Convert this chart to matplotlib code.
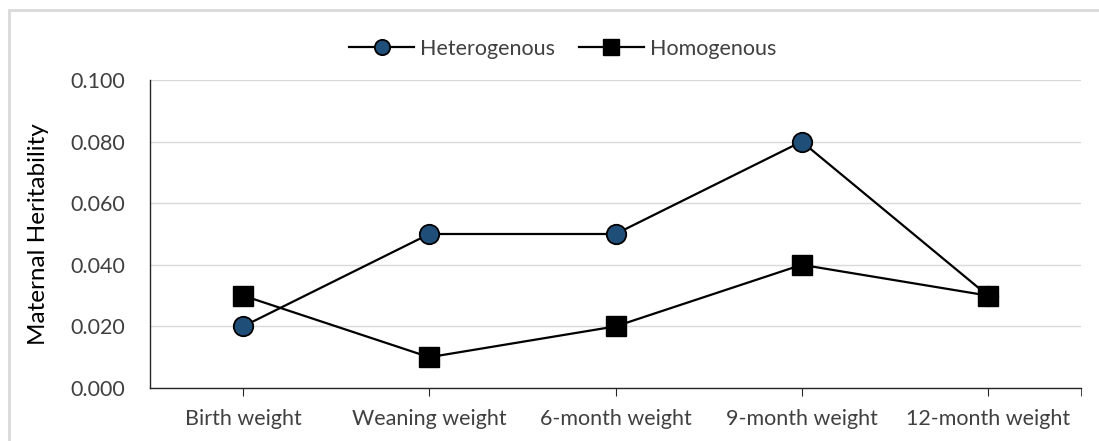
import matplotlib
matplotlib.use("Agg")
import matplotlib.pyplot as plt
from matplotlib.patches import Rectangle

categories = ["Birth weight", "Weaning weight", "6-month weight", "9-month weight", "12-month weight"]
heterogenous = [0.020, 0.050, 0.050, 0.080, 0.030]
homogenous = [0.030, 0.010, 0.020, 0.040, 0.030]
yticks = [0.000, 0.020, 0.040, 0.060, 0.080, 0.100]

plt.rcParams['font.family'] = ['Lato', 'DejaVu Sans']

fig = plt.figure(figsize=(10.99, 4.41), dpi=100)
fig.patches.append(Rectangle((9/1099, -0.1), 1.2, 1 - 10/441 + 0.1, transform=fig.transFigure,
                             fill=False, edgecolor='#d9d9d9', linewidth=2.0, zorder=0))
ax = fig.add_axes([150/1099, 1 - 388/441, (1081 - 150)/1099, (388 - 80)/441])

x = list(range(len(categories)))
ax.plot(x, heterogenous, color='black', lw=1.6, marker='o', ms=14,
        mfc='#1F4E79', mec='black', mew=1.3, label='Heterogenous', zorder=3)
ax.plot(x, homogenous, color='black', lw=1.6, marker='s', ms=14,
        mfc='black', mec='black', mew=1.0, label='Homogenous', zorder=3)

ax.set_xlim(-0.5, len(categories) - 0.5)
ax.set_ylim(0, 0.100)
ax.set_yticks(yticks)
ax.set_yticklabels([f"{v:.3f}" for v in yticks])
ax.set_xticks(x)
ax.set_xticklabels(categories)
ax.set_xticks([len(categories) - 0.5], minor=True)
ax.grid(axis='y', color='#d9d9d9', lw=1.0)
ax.set_axisbelow(True)

for s in ['top', 'right']:
    ax.spines[s].set_visible(False)
for s in ['left', 'bottom']:
    ax.spines[s].set_color('#262626')
    ax.spines[s].set_linewidth(1.0)

ax.tick_params(axis='y', length=0, pad=18, labelsize=15.5, labelcolor='#404040')
ax.tick_params(axis='x', which='both', length=6, direction='out', color='#262626',
               pad=9, labelsize=15.5, labelcolor='#404040')

ax.set_ylabel("Maternal Heritability", fontsize=17.5, color='black', labelpad=15)

leg = fig.legend(loc='center', bbox_to_anchor=(563/1099, 1 - 49/441), ncol=2, frameon=False,
                 fontsize=15.5, handlelength=3.0, columnspacing=1.1, handletextpad=0.3)
for t in leg.get_texts():
    t.set_color('#404040')
for h in leg.legend_handles:
    h.set_markersize(11)

fig.savefig("out.png", dpi=100)
